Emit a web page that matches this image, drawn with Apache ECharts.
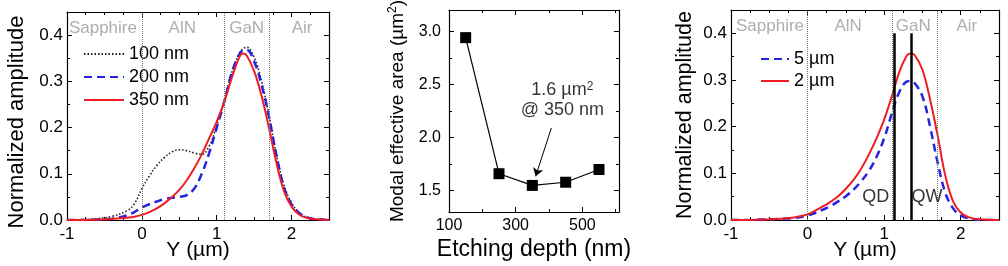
<!DOCTYPE html>
<html><head><meta charset="utf-8">
<script src="https://cdn.jsdelivr.net/npm/echarts@6/dist/echarts.min.js"></script>
<style>html,body{margin:0;padding:0;background:#fff}#c{width:1008px;height:266px}</style>
</head><body><div id="c"></div>
<script>
// ---------- data ----------
const yPos = [-1,-0.8,-0.6,-0.4,-0.2,-0.1,0,0.1,0.2,0.3,0.4,0.5,0.6,0.7,0.8,0.9,1.0,1.1,1.2,1.3,1.35,1.4,1.5,1.6,1.7,1.8,1.9,2.0,2.1,2.2,2.3,2.4,2.5];
const amp100nm = [0,0.001,0.003,0.008,0.02,0.035,0.068,0.095,0.118,0.135,0.147,0.152,0.15,0.145,0.142,0.16,0.205,0.258,0.318,0.36,0.37,0.374,0.352,0.3,0.225,0.14,0.075,0.037,0.016,0.006,0.002,0.001,0];
const amp200nm = [0,0,0.001,0.003,0.01,0.017,0.027,0.034,0.04,0.045,0.048,0.05,0.054,0.068,0.1,0.145,0.2,0.255,0.318,0.358,0.367,0.368,0.343,0.292,0.222,0.138,0.07,0.034,0.015,0.006,0.002,0.001,0];
const amp350nm = [0,0,0.001,0.002,0.005,0.007,0.011,0.017,0.025,0.036,0.049,0.065,0.086,0.112,0.142,0.177,0.213,0.255,0.307,0.352,0.36,0.356,0.322,0.268,0.198,0.122,0.062,0.029,0.012,0.005,0.002,0.001,0];
const amp5um = [0,0,0.001,0.002,0.004,0.006,0.01,0.015,0.022,0.03,0.04,0.051,0.065,0.083,0.105,0.135,0.175,0.228,0.275,0.297,0.298,0.293,0.265,0.2,0.122,0.058,0.025,0.01,0.004,0.001,0,0,0];
const amp2um = [0,0,0.001,0.002,0.005,0.008,0.012,0.02,0.029,0.039,0.051,0.067,0.086,0.11,0.14,0.175,0.215,0.265,0.318,0.353,0.357,0.353,0.322,0.258,0.18,0.094,0.04,0.016,0.006,0.002,0.001,0,0];

const depthNm = [150,250,350,450,550];
const areaUm2 = [2.94,1.66,1.55,1.58,1.70];

const regionNames = ['Sapphire','AlN','GaN','Air'];
const regionXLeft = [-0.52,0.54,1.40,2.14];
const regionXRight = [-0.49,0.53,1.38,2.08];
const regionY = 0.415;
const interfaces = [0,1.1,1.7];
const qwNames = ['QD','QW'];
const qwLineX = [1.135,1.35];
const qwLabelX = [0.89,1.56];

// ticks
const yPosMajor = [-1,0,1,2];
const yPosMinor = [-0.75,-0.5,-0.25,0.25,0.5,0.75,1.25,1.5,1.75,2.25];
const ampMajor = [0,0.1,0.2,0.3,0.4];
const ampMinor = [0.05,0.15,0.25,0.35];
const depthMajor = [100,300,500];
const depthMinor = [200,400,600];
const areaMajor = [1.5,2.0,2.5,3.0];
const areaMinor = [1.75,2.25,2.75];

// ---------- helpers ----------
const FF = "'Liberation Sans', Arial, sans-serif";
const RED = '#ee1d24', BLUE = '#2323e0';
function axes(kind, g, min, max, major, minor, opt) {
  const pos = kind === 'x' ? ['bottom','top'] : ['left','right'];
  const base = {
    type: 'value', gridIndex: g, min: min, max: max,
    nameMoveOverlap: false,
    splitLine: {show: false},
    axisLine: {show: true, onZero: false, lineStyle: {color: '#000', width: 1.2}},
  };
  const list = [];
  pos.forEach((p, i) => {
    list.push(Object.assign({}, base, {
      position: p,
      name: i === 0 ? opt.name : '',
      nameLocation: 'middle', nameGap: opt.nameGap,
      nameTextStyle: Object.assign({fontFamily: FF, fontSize: opt.nameSize, color: '#000'}, opt.nameStyle || {}),
      axisTick: {show: true, inside: true, length: 5, customValues: major, lineStyle: {color: '#000', width: 1}},
      axisLabel: i === 0 ? {show: true, customValues: major, margin: opt.margin, fontFamily: FF, fontSize: opt.labelSize, color: '#000', formatter: opt.fmt} : {show: false}
    }));
    list.push(Object.assign({}, base, {
      position: p,
      axisLine: {show: false, onZero: false},
      axisTick: {show: true, inside: true, length: 3, customValues: minor, lineStyle: {color: '#000', width: 1}},
      axisLabel: {show: false}
    }));
  });
  return list;
}
const f1 = v => v.toFixed(1);
const fi = v => String(v);
const pairs = (xs, ys) => xs.map((x, i) => [x, ys[i]]);

const xAxis = [].concat(
  axes('x', 0, -1, 2.5, yPosMajor, yPosMinor, {name: 'Y (\u00b5m)', nameGap: 20, nameSize: 21, labelSize: 17, margin: 6, fmt: fi}),
  axes('x', 1, 100, 610, depthMajor, depthMinor, {name: 'Etching depth (nm)', nameGap: 26, nameSize: 23, labelSize: 16, margin: 6, fmt: fi}),
  axes('x', 2, -1, 2.5, yPosMajor, yPosMinor, {name: 'Y (\u00b5m)', nameGap: 20, nameSize: 21, labelSize: 17, margin: 6, fmt: fi})
);
const yAxis = [].concat(
  axes('y', 0, 0, 0.45, ampMajor, ampMinor, {name: 'Normalized amplitude', nameGap: 39, nameSize: 22, labelSize: 17, margin: 4, fmt: f1,
    nameStyle: {padding: [0, 12, 0, 0]}}),
  axes('y', 1, 1.3, 3.2, areaMajor, areaMinor, {name: '{a|Modal effective area (\u00b5m}{s|2}{a|)}', nameGap: 40, nameSize: 19, labelSize: 16, margin: 8, fmt: f1,
    nameStyle: {rich: {a: {fontFamily: FF, fontSize: 19, color: '#000', lineHeight: 22}, s: {fontFamily: FF, fontSize: 12, color: '#000', verticalAlign: 'top', lineHeight: 22}}}}),
  axes('y', 2, 0, 0.45, ampMajor, ampMinor, {name: 'Normalized amplitude', nameGap: 35, nameSize: 21.5, labelSize: 17, margin: 4, fmt: f1})
);

const textSeries = (g, names, xs, y, size, color, extra) => Object.assign({
  type: 'scatter', xAxisIndex: g * 4, yAxisIndex: g * 4, symbolSize: 0, silent: true, z: 5,
  data: names.map((n, i) => ({name: n, value: [xs[i], y]})),
  label: {show: true, position: 'inside', formatter: '{b}', fontFamily: FF, fontSize: size, color: color}
}, extra || {});

const dotted = {type: 'dotted', color: '#777', width: 1};
const ifaceMark = {silent: true, symbol: ['none','none'], label: {show: false}, lineStyle: dotted,
  data: interfaces.map(v => ({xAxis: v}))};

const legendBase = {orient: 'vertical', itemHeight: 14, selectedMode: false,
  itemStyle: {opacity: 0, borderWidth: 0},
  textStyle: {fontFamily: FF, fontSize: 18, color: '#000'}};

const option = {
  animation: false,
  backgroundColor: '#fff',
  grid: [
    {left: 67, top: 12, width: 262, height: 209},
    {left: 449, top: 10, width: 170, height: 208},
    {left: 731, top: 10, width: 268, height: 211}
  ],
  xAxis: xAxis,
  yAxis: yAxis,
  legend: [
    Object.assign({}, legendBase, {data: ['100 nm','200 nm','350 nm'], left: 78, top: 40, itemWidth: 40, itemGap: 5}),
    Object.assign({}, legendBase, {data: ['5 \u00b5m','2 \u00b5m'], left: 755, top: 45, itemWidth: 28, itemGap: 4})
  ],
  series: [
    textSeries(0, regionNames, regionXLeft, regionY, 17, '#999', {markLine: ifaceMark}),
    {name: '100 nm', type: 'line', xAxisIndex: 0, yAxisIndex: 0, symbol: 'none', smooth: 0.4, data: pairs(yPos, amp100nm),
     lineStyle: {color: '#222', width: 1.6, type: [1.5, 2]}, itemStyle: {color: '#222'}},
    {name: '200 nm', type: 'line', xAxisIndex: 0, yAxisIndex: 0, symbol: 'none', smooth: 0.4, data: pairs(yPos, amp200nm),
     lineStyle: {color: BLUE, width: 2.5, type: [8, 5]}, itemStyle: {color: BLUE}},
    {name: '350 nm', type: 'line', xAxisIndex: 0, yAxisIndex: 0, symbol: 'none', smooth: 0.4, data: pairs(yPos, amp350nm),
     lineStyle: {color: RED, width: 2}, itemStyle: {color: RED}},

    {name: 'area', type: 'line', xAxisIndex: 4, yAxisIndex: 4, symbol: 'rect', symbolSize: 11, data: pairs(depthNm, areaUm2),
     lineStyle: {color: '#000', width: 1.2}, itemStyle: {color: '#000'}},
    {type: 'scatter', xAxisIndex: 4, yAxisIndex: 4, symbolSize: 0, silent: true,
     data: [{value: [440, 2.35]}],
     label: {show: true, position: 'inside', align: 'center',
       formatter: '{a|1.6 \u00b5m}{s|2}\n{a|@ 350 nm}',
       rich: {a: {fontFamily: FF, fontSize: 18, color: '#000', lineHeight: 20}, s: {fontFamily: FF, fontSize: 12, color: '#000', lineHeight: 20, verticalAlign: 'top'}}},
     markLine: {silent: true, symbol: ['none','arrow'], symbolSize: 8, label: {show: false},
       lineStyle: {color: '#000', width: 1, type: 'solid'},
       data: [[{coord: [407, 2.09]}, {coord: [360, 1.636]}]]}},

    textSeries(2, regionNames, regionXRight, regionY, 17, '#999', {markLine: ifaceMark}),
    {name: '5 \u00b5m', type: 'line', xAxisIndex: 8, yAxisIndex: 8, symbol: 'none', smooth: 0.4, data: pairs(yPos, amp5um),
     lineStyle: {color: BLUE, width: 2.5, type: [8, 5]}, itemStyle: {color: BLUE}},
    {name: '2 \u00b5m', type: 'line', xAxisIndex: 8, yAxisIndex: 8, symbol: 'none', smooth: 0.4, data: pairs(yPos, amp2um),
     lineStyle: {color: RED, width: 2}, itemStyle: {color: RED}},
    textSeries(2, qwNames, qwLabelX, 0.05, 18, '#000', {
      markLine: {silent: true, symbol: ['none','none'], label: {show: false}, lineStyle: {color: '#000', width: 2.5, type: 'solid'},
        data: qwLineX.map(x => [{coord: [x, 0]}, {coord: [x, 0.4]}])}})
  ]
};
const chart = echarts.init(document.getElementById('c'), null, {renderer: 'canvas'});
chart.setOption(option);
</script>
</body></html>
